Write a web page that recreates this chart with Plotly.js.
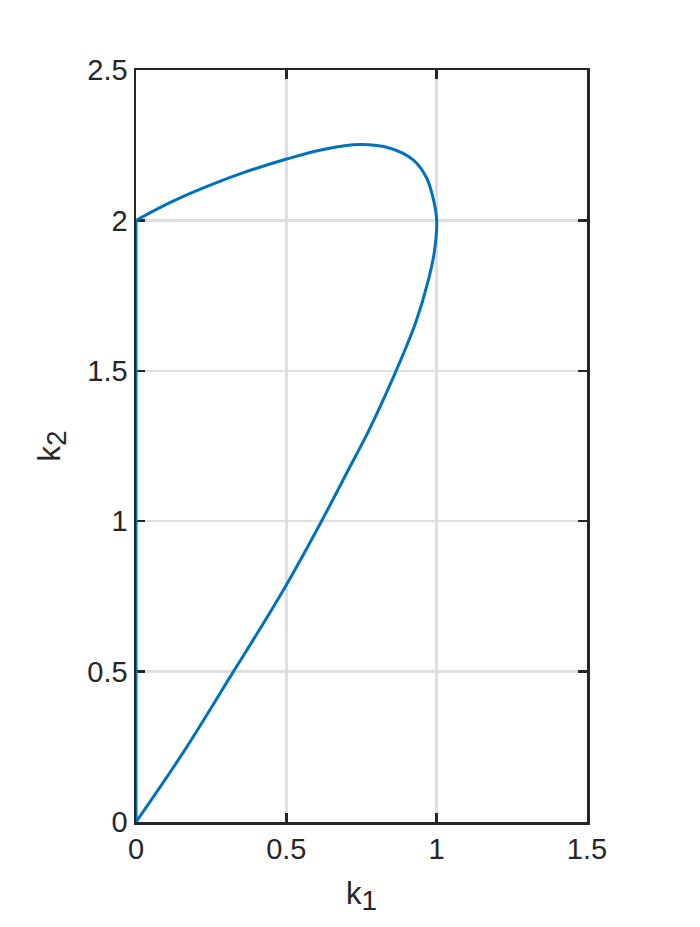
<!DOCTYPE html>
<html>
<head>
<meta charset="utf-8">
<script src="https://cdn.plot.ly/plotly-3.0.1.min.js"></script>
<style>
  html, body { margin: 0; padding: 0; background: #fff; }
  #plot { width: 700px; height: 927px; }
</style>
</head>
<body>
<div id="plot"></div>
<script>
// boundary curve, from (0,2) over the top and back down to (0,0)
const k1Curve = [0, 0.111, 0.222, 0.355, 0.504, 0.623, 0.745, 0.845, 0.922, 0.967, 0.991, 1.0, 0.993, 0.972, 0.93, 0.865, 0.775, 0.709, 0.617, 0.5, 0.41, 0.324, 0.155, 0];
const k2Curve = [2, 2.058, 2.107, 2.158, 2.205, 2.236, 2.252, 2.24, 2.201, 2.14, 2.062, 2.0, 1.9, 1.8, 1.66, 1.5, 1.303, 1.176, 1.0, 0.788, 0.638, 0.5, 0.228, 0];

// left edge of the region along k1 = 0
const k1Edge = [0, 0];
const k2Edge = [0, 2];

const xTicks = [0, 0.5, 1, 1.5];
const yTicks = [0, 0.5, 1, 1.5, 2, 2.5];

const blue = '#0072BD';
const dark = '#262626';

const edge = {
  x: k1Edge, y: k2Edge,
  mode: 'lines', line: { color: blue, width: 3 },
  cliponaxis: false, hoverinfo: 'skip'
};

const curve = {
  x: k1Curve, y: k2Curve,
  mode: 'lines', line: { color: blue, width: 3, shape: 'spline', smoothing: 1 },
  cliponaxis: false
};

const axisCommon = {
  showline: true, linecolor: dark, linewidth: 2.5, mirror: 'ticks',
  ticks: 'inside', ticklen: 9, tickwidth: 2.5, tickcolor: dark,
  showgrid: true, gridcolor: '#dfdfdf', gridwidth: 2.5,
  zeroline: false, tickfont: { size: 29, color: dark },
  layer: 'below traces'
};

// subscript kept near full size, as in the original
const sub = n => `k<sub><span style="font-size:28px">${n}</span></sub>`;

const layout = {
  width: 700, height: 927,
  margin: { l: 136, r: 113, t: 70, b: 105 },
  paper_bgcolor: '#fff', plot_bgcolor: '#fff',
  font: { family: '"Liberation Sans", Arial, sans-serif', color: dark },
  showlegend: false,
  xaxis: Object.assign({}, axisCommon, {
    range: [0, 1.5], tickvals: xTicks, ticktext: xTicks.map(String),
    title: { text: sub(1), font: { size: 31, color: dark }, standoff: 18 }
  }),
  yaxis: Object.assign({}, axisCommon, {
    range: [0, 2.5], tickvals: yTicks, ticktext: yTicks.map(String),
    title: { text: sub(2), font: { size: 31, color: dark }, standoff: 18 }
  })
};

Plotly.newPlot('plot', [edge, curve], layout, { displayModeBar: false, staticPlot: true });
</script>
</body>
</html>
